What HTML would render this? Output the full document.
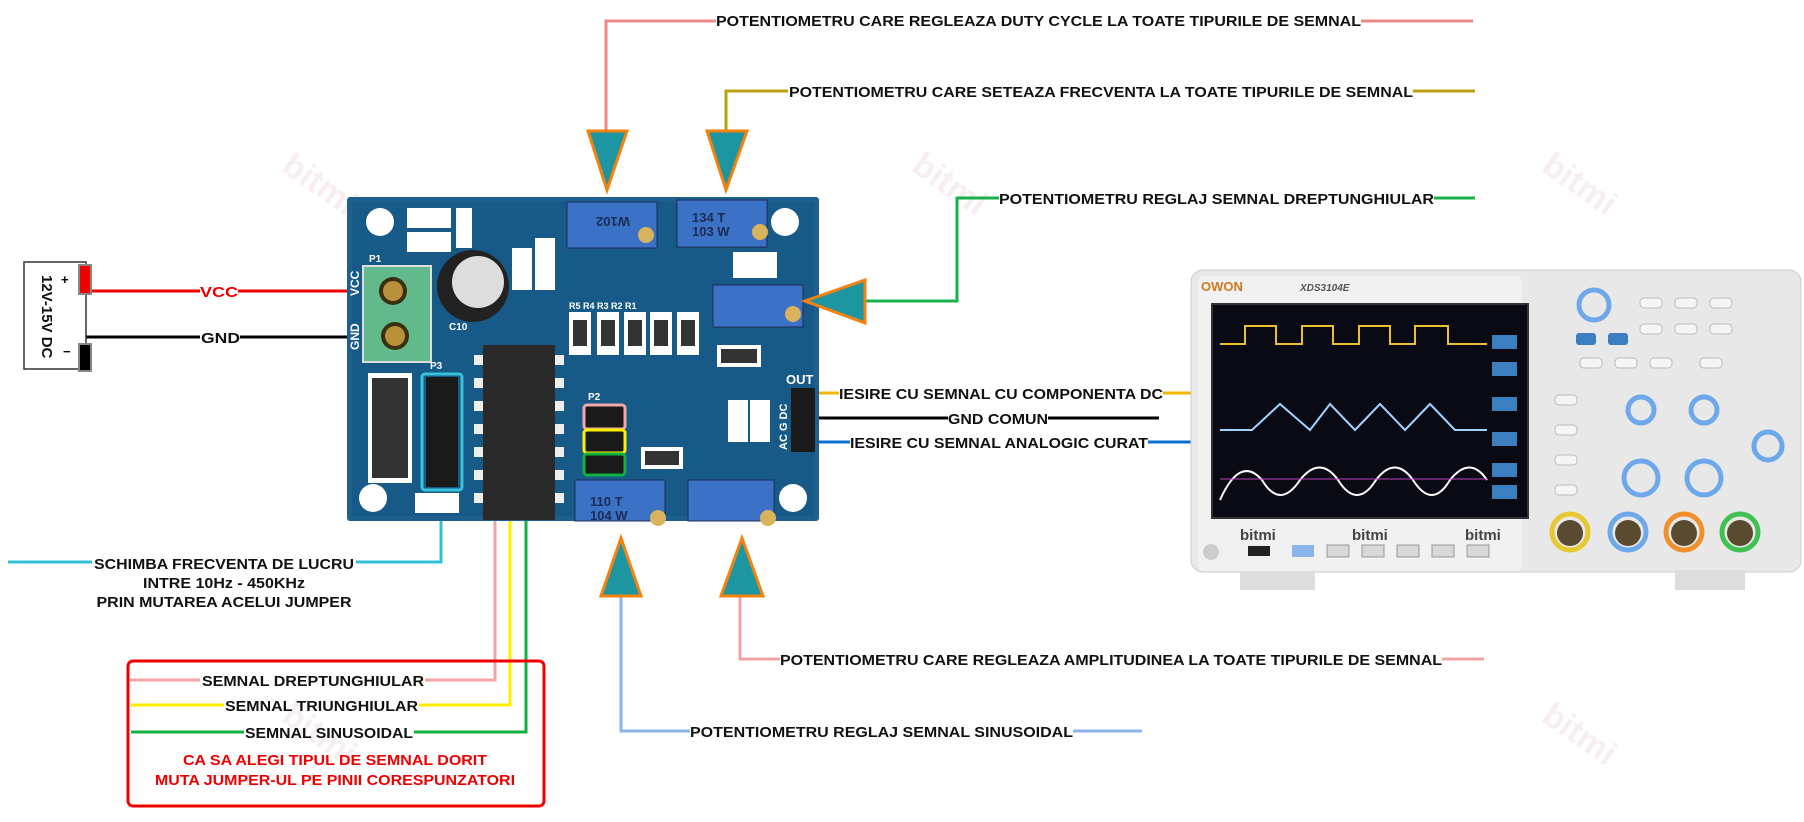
<!DOCTYPE html>
<html><head><meta charset="utf-8"><style>
html,body{margin:0;padding:0;background:#fff;}
svg{display:block;}
text{font-family:"Liberation Sans Narrow","Liberation Sans",sans-serif;font-weight:bold;}
</style></head><body>
<svg width="1804" height="822" viewBox="0 0 1804 822" xmlns="http://www.w3.org/2000/svg">
<!-- watermarks -->
<g fill="#f8eef2" font-size="34" font-weight="normal">
<text x="280" y="170" transform="rotate(35 280 170)">bitmi</text>
<text x="910" y="170" transform="rotate(35 910 170)">bitmi</text>
<text x="1540" y="170" transform="rotate(35 1540 170)">bitmi</text>
<text x="280" y="720" transform="rotate(35 280 720)">bitmi</text>
<text x="1540" y="720" transform="rotate(35 1540 720)">bitmi</text>
</g>

<!-- connector lines -->
<g fill="none" stroke-width="3">
<polyline points="606,132 606,21 716,21" stroke="#ec8a8a"/>
<line x1="1361" y1="21" x2="1473" y2="21" stroke="#ec8a8a"/>
<polyline points="726,132 726,91 788,91" stroke="#b8a010"/>
<line x1="1413" y1="91" x2="1475" y2="91" stroke="#b8a010"/>
<polyline points="865,301 957,301 957,198 999,198" stroke="#17b04a"/>
<line x1="1434" y1="198" x2="1475" y2="198" stroke="#17b04a"/>
<line x1="86" y1="291" x2="200" y2="291" stroke="#e00"/><line x1="238" y1="291" x2="349" y2="291" stroke="#e00"/>
<line x1="86" y1="337" x2="200" y2="337" stroke="#000"/><line x1="240" y1="337" x2="349" y2="337" stroke="#000"/>
<line x1="812" y1="393" x2="839" y2="393" stroke="#f2b600"/><line x1="1163" y1="393" x2="1198" y2="393" stroke="#f2b600"/>
<line x1="812" y1="418" x2="948" y2="418" stroke="#000"/><line x1="1048" y1="418" x2="1159" y2="418" stroke="#000"/>
<line x1="812" y1="442" x2="850" y2="442" stroke="#0a6fd0"/><line x1="1148" y1="442" x2="1197" y2="442" stroke="#0a6fd0"/>
<polyline points="740,596 740,659 780,659" stroke="#f2a4a4"/>
<line x1="1442" y1="659" x2="1484" y2="659" stroke="#f2a4a4"/>
<polyline points="621,596 621,731 690,731" stroke="#8ab4ea"/>
<line x1="1073" y1="731" x2="1142" y2="731" stroke="#8ab4ea"/>
<line x1="8" y1="562" x2="92" y2="562" stroke="#2fc0d8"/>
<polyline points="356,562 441,562 441,492" stroke="#2fc0d8"/>
<polyline points="130,680 200,680" stroke="#f2a4a4"/>
<polyline points="425,680 495,680 495,416 584,416" stroke="#f2a4a4"/>
<polyline points="131,705 224,705" stroke="#ffee00"/>
<polyline points="419,705 510,705 510,441 584,441" stroke="#ffee00"/>
<polyline points="131,732 244,732" stroke="#12b040"/>
<polyline points="414,732 526,732 526,465 584,465" stroke="#12b040"/>
</g>

<!-- PCB -->
<rect x="347" y="197" width="472" height="324" fill="#1d5f8f" rx="3"/>
<rect x="352" y="202" width="462" height="314" fill="#185a87"/>
<g fill="#fff"><circle cx="380" cy="222" r="14"/><circle cx="785" cy="222" r="14"/><circle cx="373" cy="498" r="14"/><circle cx="793" cy="498" r="14"/></g>
<rect x="363" y="266" width="68" height="96" fill="#62ba8c" stroke="#ddd" stroke-width="2"/>
<circle cx="393" cy="291" r="14" fill="#3a2f10"/><circle cx="393" cy="291" r="10" fill="#b8913a"/>
<circle cx="395" cy="336" r="14" fill="#3a2f10"/><circle cx="395" cy="336" r="10" fill="#b8913a"/>
<circle cx="473" cy="286" r="36" fill="#222"/><circle cx="478" cy="282" r="26" fill="#ddd"/>
<g fill="#3b72c6" stroke="#1b2c55" stroke-width="1">
<rect x="567" y="202" width="90" height="46"/><rect x="677" y="200" width="90" height="47"/>
<rect x="713" y="285" width="90" height="42"/>
<rect x="575" y="480" width="90" height="41"/><rect x="688" y="480" width="86" height="41"/>
</g>
<g fill="#d9b25c"><circle cx="646" cy="235" r="8"/><circle cx="760" cy="232" r="8"/><circle cx="793" cy="314" r="8"/><circle cx="658" cy="518" r="8"/><circle cx="768" cy="518" r="8"/></g>
<g fill="#1b2c55" font-size="13">
<text x="600" y="233" transform="rotate(180 615 225)">W102</text>
<text x="692" y="222">134 T</text><text x="692" y="236">103 W</text>
<text x="590" y="506">110 T</text><text x="590" y="520">104 W</text>
</g>
<g fill="#fff">
<rect x="569" y="312" width="22" height="43"/><rect x="597" y="312" width="22" height="43"/><rect x="624" y="312" width="22" height="43"/><rect x="650" y="312" width="22" height="43"/><rect x="677" y="312" width="22" height="43"/>
<rect x="407" y="208" width="44" height="20"/><rect x="407" y="232" width="44" height="20"/><rect x="456" y="208" width="16" height="40"/>
<rect x="512" y="248" width="20" height="42"/><rect x="535" y="238" width="20" height="52"/>
<rect x="733" y="252" width="44" height="26"/><rect x="717" y="345" width="44" height="22"/>
<rect x="368" y="373" width="44" height="110"/><rect x="415" y="493" width="44" height="20"/>
<rect x="728" y="400" width="20" height="42"/><rect x="750" y="400" width="20" height="42"/>
<rect x="641" y="447" width="42" height="22"/>
</g>
<g fill="#333">
<rect x="573" y="320" width="14" height="26"/><rect x="601" y="320" width="14" height="26"/><rect x="628" y="320" width="14" height="26"/><rect x="654" y="320" width="14" height="26"/><rect x="681" y="320" width="14" height="26"/>
<rect x="372" y="378" width="36" height="100"/><rect x="721" y="349" width="36" height="14"/><rect x="645" y="451" width="34" height="14"/>
</g>
<rect x="483" y="345" width="72" height="175" fill="#2a2a2a"/>
<g fill="#eee"><rect x="474" y="355" width="9" height="10"/><rect x="474" y="378" width="9" height="10"/><rect x="474" y="401" width="9" height="10"/><rect x="474" y="424" width="9" height="10"/><rect x="474" y="447" width="9" height="10"/><rect x="474" y="470" width="9" height="10"/><rect x="474" y="493" width="9" height="10"/>
<rect x="555" y="355" width="9" height="10"/><rect x="555" y="378" width="9" height="10"/><rect x="555" y="401" width="9" height="10"/><rect x="555" y="424" width="9" height="10"/><rect x="555" y="447" width="9" height="10"/><rect x="555" y="470" width="9" height="10"/><rect x="555" y="493" width="9" height="10"/></g>
<rect x="426" y="377" width="32" height="110" fill="#1a1a1a"/>
<rect x="422" y="374" width="40" height="116" fill="none" stroke="#37c3d8" stroke-width="3" rx="3"/>
<rect x="585" y="405" width="40" height="70" fill="#1a1a1a"/>
<rect x="584" y="405" width="41" height="24" fill="none" stroke="#f0a8a8" stroke-width="3" rx="3"/>
<rect x="584" y="430" width="41" height="23" fill="none" stroke="#ffee00" stroke-width="3" rx="3"/>
<rect x="584" y="454" width="41" height="21" fill="none" stroke="#12b040" stroke-width="3" rx="3"/>
<rect x="791" y="388" width="24" height="64" fill="#1a1a1a"/>
<g fill="#fff" font-size="13"><text x="786" y="384">OUT</text>
<text x="0" y="0" transform="translate(359 296) rotate(-90)" font-size="12">VCC</text>
<text x="0" y="0" transform="translate(359 350) rotate(-90)" font-size="12">GND</text>
<text x="0" y="0" transform="translate(787 450) rotate(-90)" font-size="11">AC  G  DC</text>
<text x="588" y="400" font-size="10">P2</text><text x="430" y="369" font-size="10">P3</text>
<text x="369" y="262" font-size="10">P1</text><text x="449" y="330" font-size="10">C10</text>
<text x="569" y="309" font-size="9">R5   R4   R3   R2   R1</text></g>

<g fill="#1d96a2" stroke="#f5820f" stroke-width="3" stroke-linejoin="miter">
<polygon points="588,131 627,131 607,190"/>
<polygon points="707,131 747,131 726,190"/>
<polygon points="805,301 865,280 865,323"/>
<polygon points="601,596 641,596 621,538"/>
<polygon points="721,596 763,596 742,538"/>
</g>

<rect x="24" y="262" width="62" height="107" fill="#fff" stroke="#333" stroke-width="1.5"/>
<rect x="79" y="265" width="12" height="29" fill="#e00" stroke="#888" stroke-width="2"/>
<rect x="79" y="344" width="12" height="27" fill="#000" stroke="#888" stroke-width="2"/>
<text transform="translate(42 275) rotate(90)" font-size="15" font-family="Liberation Sans" fill="#111">12V-15V DC</text>
<text x="61" y="284" font-size="13" font-weight="normal">+</text>
<text x="63" y="356" font-size="13" font-weight="normal">−</text>

<g font-size="15" fill="#111">
<text x="716" y="26" textLength="645" lengthAdjust="spacingAndGlyphs">POTENTIOMETRU CARE REGLEAZA DUTY CYCLE LA TOATE TIPURILE DE SEMNAL</text>
<text x="789" y="97" textLength="624" lengthAdjust="spacingAndGlyphs">POTENTIOMETRU CARE SETEAZA FRECVENTA LA TOATE TIPURILE DE SEMNAL</text>
<text x="999" y="204" textLength="435" lengthAdjust="spacingAndGlyphs">POTENTIOMETRU REGLAJ SEMNAL DREPTUNGHIULAR</text>
<text x="839" y="399" textLength="324" lengthAdjust="spacingAndGlyphs">IESIRE CU SEMNAL CU COMPONENTA DC</text>
<text x="948" y="424" textLength="100" lengthAdjust="spacingAndGlyphs">GND COMUN</text>
<text x="850" y="448" textLength="298" lengthAdjust="spacingAndGlyphs">IESIRE CU SEMNAL ANALOGIC CURAT</text>
<text x="780" y="665" textLength="662" lengthAdjust="spacingAndGlyphs">POTENTIOMETRU CARE REGLEAZA AMPLITUDINEA LA TOATE TIPURILE DE SEMNAL</text>
<text x="690" y="737" textLength="383" lengthAdjust="spacingAndGlyphs">POTENTIOMETRU REGLAJ SEMNAL SINUSOIDAL</text>
<text x="200" y="297" fill="#e00" textLength="38" lengthAdjust="spacingAndGlyphs">VCC</text>
<text x="201" y="343" textLength="39" lengthAdjust="spacingAndGlyphs">GND</text>
<text x="224" y="569" text-anchor="middle" textLength="260" lengthAdjust="spacingAndGlyphs">SCHIMBA FRECVENTA DE LUCRU</text>
<text x="224" y="588" text-anchor="middle" textLength="162" lengthAdjust="spacingAndGlyphs">INTRE 10Hz - 450KHz</text>
<text x="224" y="607" text-anchor="middle" textLength="255" lengthAdjust="spacingAndGlyphs">PRIN MUTAREA ACELUI JUMPER</text>
<text x="202" y="686" textLength="222" lengthAdjust="spacingAndGlyphs">SEMNAL DREPTUNGHIULAR</text>
<text x="225" y="711" textLength="193" lengthAdjust="spacingAndGlyphs">SEMNAL TRIUNGHIULAR</text>
<text x="245" y="738" textLength="168" lengthAdjust="spacingAndGlyphs">SEMNAL SINUSOIDAL</text>
<text x="335" y="765" fill="#e00" text-anchor="middle" textLength="304" lengthAdjust="spacingAndGlyphs">CA SA ALEGI TIPUL DE SEMNAL DORIT</text>
<text x="335" y="785" fill="#e00" text-anchor="middle" textLength="360" lengthAdjust="spacingAndGlyphs">MUTA JUMPER-UL PE PINII CORESPUNZATORI</text>
</g>
<rect x="128" y="661" width="416" height="145" fill="none" stroke="#e00" stroke-width="3" rx="5"/>

<!-- oscilloscope -->
<rect x="1191" y="270" width="610" height="302" rx="12" fill="#e8e8e8" stroke="#ccc"/>
<rect x="1240" y="570" width="75" height="20" fill="#ddd"/><rect x="1675" y="570" width="70" height="20" fill="#ddd"/>
<rect x="1198" y="276" width="324" height="295" rx="6" fill="#f1f1f1"/>
<text x="1201" y="291" font-size="13" fill="#d07a20">OWON</text>
<text x="1300" y="291" font-size="10" fill="#555" font-style="italic" font-weight="normal">XDS3104E</text>
<rect x="1212" y="304" width="316" height="214" fill="#0a0a14" stroke="#333" stroke-width="2"/>
<g fill="none" stroke-width="2">
<polyline points="1220,344 1245,344 1245,326 1276,326 1276,344 1302,344 1302,326 1333,326 1333,344 1359,344 1359,326 1390,326 1390,344 1415,344 1415,326 1448,326 1448,344 1487,344" stroke="#e8c030"/>
<polyline points="1220,430 1252,430 1280,404 1310,430 1330,404 1355,430 1380,404 1405,430 1430,404 1455,430 1487,430" stroke="#9fd3ff"/>
<path d="M1220,500 Q1240,455 1262,480 Q1280,510 1300,480 Q1320,455 1338,480 Q1357,510 1376,480 Q1395,455 1413,480 Q1432,510 1450,480 Q1470,455 1487,480" stroke="#ffffff"/>
<line x1="1220" y1="479" x2="1487" y2="479" stroke="#c040c0" stroke-width="1"/>
</g>
<g fill="#3b7fc0"><rect x="1492" y="335" width="25" height="14"/><rect x="1492" y="362" width="25" height="14"/><rect x="1492" y="397" width="25" height="14"/><rect x="1492" y="432" width="25" height="14"/><rect x="1492" y="463" width="25" height="14"/><rect x="1492" y="485" width="25" height="14"/></g>
<g font-size="15" font-weight="normal"><text x="1240" y="540" fill="#444">bitmi</text><text x="1352" y="540" fill="#444">bitmi</text><text x="1465" y="540" fill="#444">bitmi</text></g>
<g fill="#d8d8d8" stroke="#999"><rect x="1327" y="545" width="22" height="12"/><rect x="1362" y="545" width="22" height="12"/><rect x="1397" y="545" width="22" height="12"/><rect x="1432" y="545" width="22" height="12"/><rect x="1467" y="545" width="22" height="12"/></g>
<rect x="1292" y="545" width="22" height="12" fill="#8ab4ea"/>
<circle cx="1211" cy="552" r="8" fill="#ccc"/><rect x="1248" y="546" width="22" height="10" fill="#222"/>
<g fill="none" stroke-width="5"><circle cx="1570" cy="532" r="18" stroke="#e8c830"/><circle cx="1628" cy="532" r="18" stroke="#6fa8ea"/><circle cx="1684" cy="532" r="18" stroke="#f0902a"/><circle cx="1740" cy="532" r="18" stroke="#40c050"/></g>
<g fill="#5a4a30"><circle cx="1570" cy="533" r="13"/><circle cx="1628" cy="533" r="13"/><circle cx="1684" cy="533" r="13"/><circle cx="1740" cy="533" r="13"/></g>
<g fill="none" stroke="#6fa8ea" stroke-width="5"><circle cx="1594" cy="305" r="15"/><circle cx="1641" cy="410" r="13"/><circle cx="1704" cy="410" r="13"/><circle cx="1641" cy="478" r="17"/><circle cx="1704" cy="478" r="17"/><circle cx="1768" cy="446" r="14"/></g>
<g fill="#f5f5f5" stroke="#bbb"><rect x="1580" y="358" width="22" height="10" rx="4"/><rect x="1615" y="358" width="22" height="10" rx="4"/><rect x="1650" y="358" width="22" height="10" rx="4"/><rect x="1700" y="358" width="22" height="10" rx="4"/>
<rect x="1640" y="298" width="22" height="10" rx="4"/><rect x="1675" y="298" width="22" height="10" rx="4"/><rect x="1710" y="298" width="22" height="10" rx="4"/>
<rect x="1640" y="324" width="22" height="10" rx="4"/><rect x="1675" y="324" width="22" height="10" rx="4"/><rect x="1710" y="324" width="22" height="10" rx="4"/>
<rect x="1555" y="395" width="22" height="10" rx="4"/><rect x="1555" y="425" width="22" height="10" rx="4"/><rect x="1555" y="455" width="22" height="10" rx="4"/><rect x="1555" y="485" width="22" height="10" rx="4"/></g>
<g fill="#3b7fc0"><rect x="1576" y="333" width="20" height="12" rx="3"/><rect x="1608" y="333" width="20" height="12" rx="3"/></g>
</svg>
</body></html>
